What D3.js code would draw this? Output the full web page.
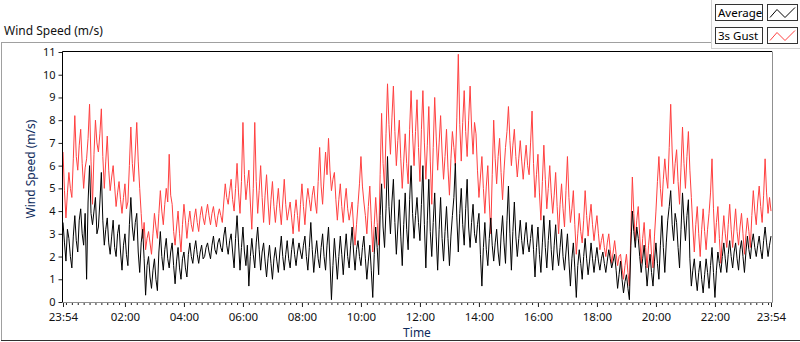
<!DOCTYPE html>
<html>
<head>
<meta charset="utf-8">
<script src="https://cdnjs.cloudflare.com/ajax/libs/d3/7.8.5/d3.min.js"></script>
<style>
    body { margin: 0; background: #fff; }
    svg text { font-family: "Noto Sans", sans-serif; font-size: 11px; }
</style>
</head>
<body>
<div id="chart"></div>
<script>
// samples every 3 minutes, first one at 23:54
const startTime = '2020-01-01T23:54:00';
const endTime = '2020-01-02T23:54:00';
const stepMinutes = 3;

// average wind speed (m/s), one row per hour
const avgSpeed = [
    3.5, 2.6, 1.8, 3.2, 2.8, 2.0, 1.5, 2.9, 3.8, 2.7, 2.2, 3.6, 4.1, 3.0, 2.5, 3.9, 1.0, 4.4, 6.0, 3.9,
    3.4, 4.0, 4.6, 3.0, 3.3, 4.4, 5.7, 3.6, 2.5, 3.2, 3.7, 2.6, 2.1, 2.9, 3.6, 2.4, 2.0, 3.0, 3.4, 2.2,
    1.4, 2.5, 3.0, 2.1, 1.6, 3.4, 4.6, 3.3, 2.7, 3.5, 3.9, 2.2, 1.3, 2.6, 3.2, 1.9, 0.3, 1.6, 2.0, 1.1,
    0.6, 1.4, 1.9, 1.0, 0.5, 2.2, 3.1, 2.0, 1.4, 2.3, 2.8, 1.9, 1.5, 2.2, 2.6, 1.6, 0.8, 1.8, 2.4, 1.5,
    1.0, 1.9, 2.2, 1.5, 1.1, 2.1, 2.6, 2.0, 1.7, 2.3, 2.7, 2.1, 1.7, 2.2, 2.5, 1.9, 2.0, 2.4, 2.6, 2.2,
    1.9, 2.5, 2.9, 2.3, 2.1, 2.6, 2.8, 2.4, 2.2, 2.9, 3.3, 2.5, 2.1, 2.7, 3.0, 2.2, 1.5, 2.8, 3.8, 2.6,
    1.4, 2.4, 3.3, 2.2, 1.6, 2.5, 0.7, 2.0, 2.8, 2.1, 1.5, 2.6, 3.3, 2.3, 1.4, 2.2, 2.6, 1.8, 1.1, 1.9,
    2.5, 1.7, 1.0, 1.9, 2.4, 1.8, 1.3, 2.2, 2.9, 2.0, 1.4, 2.1, 2.7, 1.9, 1.5, 2.3, 2.8, 2.1, 1.6, 2.2,
    2.6, 2.2, 1.9, 2.5, 2.9, 2.0, 1.4, 2.4, 3.5, 2.3, 1.3, 2.1, 2.7, 1.9, 1.5, 2.4, 3.0, 2.0, 1.4, 2.5,
    3.3, 1.8, 0.1, 1.6, 2.8, 1.9, 1.0, 2.0, 2.9, 2.1, 1.2, 2.2, 3.0, 2.0, 1.5, 2.5, 3.3, 2.2, 1.4, 2.3,
    2.7, 2.0, 1.6, 2.4, 2.9, 1.9, 1.0, 1.8, 2.5, 1.4, 0.2, 2.1, 3.3, 2.4, 1.2, 3.8, 5.2, 3.3, 2.4, 4.1,
    6.4, 4.2, 3.0, 4.4, 5.4, 3.5, 2.1, 3.3, 4.5, 2.9, 1.6, 3.4, 4.8, 3.2, 2.3, 4.5, 6.0, 3.9, 2.8, 3.8,
    4.6, 3.5, 2.7, 4.3, 6.0, 3.4, 1.5, 3.6, 5.4, 3.1, 2.0, 3.5, 4.8, 2.9, 1.4, 3.2, 4.6, 2.8, 1.8, 3.1,
    4.2, 2.8, 1.6, 2.9, 3.8, 4.6, 6.1, 3.7, 2.2, 3.9, 5.0, 3.4, 2.5, 4.1, 5.4, 3.3, 2.4, 3.5, 4.3, 3.0,
    2.6, 3.4, 3.9, 2.1, 0.7, 2.4, 3.5, 2.3, 1.6, 2.8, 3.7, 2.5, 1.8, 2.6, 3.2, 2.2, 1.6, 2.9, 3.8, 2.6,
    1.7, 3.6, 5.1, 3.0, 1.4, 3.1, 4.4, 2.9, 2.0, 2.8, 3.6, 2.7, 2.1, 2.9, 3.5, 2.6, 2.2, 2.8, 3.4, 2.3,
    1.1, 2.4, 3.3, 2.1, 1.3, 2.6, 3.8, 2.4, 1.5, 2.7, 3.6, 2.3, 1.4, 2.5, 3.4, 2.2, 1.6, 2.4, 3.2, 2.0,
    1.4, 2.2, 3.0, 1.8, 0.7, 1.9, 2.6, 1.5, 0.2, 1.6, 2.3, 1.7, 1.0, 2.0, 2.8, 1.9, 1.2, 1.8, 2.6, 1.9,
    1.3, 1.9, 2.4, 1.8, 1.4, 1.9, 2.2, 1.7, 1.3, 1.8, 2.3, 1.9, 1.5, 1.8, 2.1, 1.4, 0.6, 1.2, 1.8, 1.0,
    0.4, 0.9, 1.2, 0.6, 0.1, 2.5, 4.0, 3.1, 2.4, 3.3, 2.8, 2.0, 1.3, 1.9, 2.5, 1.6, 0.7, 1.5, 2.1, 1.3,
    0.7, 1.8, 2.6, 1.7, 1.0, 2.5, 3.8, 2.4, 1.3, 2.6, 3.6, 4.2, 4.9, 3.4, 2.7, 3.9, 3.5, 2.4, 1.5, 3.2,
    4.8, 3.6, 2.7, 3.8, 4.5, 1.9, 0.7, 1.4, 1.9, 1.1, 0.5, 1.3, 1.8, 1.0, 0.4, 1.2, 1.9, 1.3, 0.6, 1.6,
    2.4, 1.3, 0.2, 1.4, 2.2, 1.7, 1.3, 2.0, 2.6, 1.9, 1.3, 2.1, 2.7, 2.0, 1.5, 2.2, 2.6, 1.9, 1.4, 2.3,
    2.7, 2.0, 1.3, 2.2, 2.9, 2.3, 1.9, 2.6, 3.0, 2.4, 2.0, 2.5, 2.9, 2.3, 1.9, 2.7, 3.3, 2.6, 2.0, 2.5,
    2.9
];

// 3s gust (m/s)
const gustSpeed = [
    6.6, 4.9, 3.7, 4.8, 5.7, 5.0, 4.6, 6.3, 8.2, 6.4, 5.8, 6.9, 7.6, 6.1, 5.0, 5.9, 6.3, 7.2, 8.7, 6.2,
    4.3, 6.5, 8.0, 7.0, 6.6, 7.4, 8.5, 6.4, 5.0, 6.2, 7.3, 5.8, 4.9, 5.5, 6.0, 5.1, 4.2, 4.8, 5.3, 4.5,
    3.9, 4.6, 5.2, 4.1, 4.4, 6.0, 7.7, 6.1, 5.3, 6.6, 7.9, 6.2, 5.0, 3.9, 2.8, 3.5, 2.3, 2.8, 3.1, 2.6,
    2.1, 3.0, 3.9, 3.3, 2.8, 3.9, 4.9, 4.0, 3.4, 4.3, 5.0, 4.4, 6.5, 4.7, 4.3, 3.1, 2.5, 3.3, 4.0, 3.0,
    2.2, 3.4, 4.3, 3.6, 2.8, 3.5, 4.0, 3.4, 3.1, 3.7, 4.1, 3.5, 3.1, 3.8, 4.2, 3.7, 3.4, 3.9, 4.3, 3.8,
    3.4, 3.9, 4.2, 3.7, 3.3, 3.8, 4.1, 3.8, 3.5, 4.4, 5.2, 4.6, 4.3, 4.9, 5.4, 4.5, 4.0, 5.0, 6.1, 4.8,
    3.9, 5.3, 7.9, 5.6, 4.5, 5.2, 5.8, 4.4, 3.2, 5.0, 7.9, 5.3, 3.9, 4.9, 6.0, 4.6, 3.5, 4.7, 5.6, 4.4,
    3.4, 4.5, 5.3, 4.2, 3.5, 4.3, 5.0, 4.1, 3.4, 4.4, 5.4, 4.3, 3.6, 4.0, 4.4, 3.7, 3.0, 3.9, 4.5, 3.8,
    3.1, 4.3, 5.2, 4.2, 3.4, 4.4, 5.0, 4.5, 4.0, 4.7, 5.1, 4.4, 3.9, 5.3, 6.8, 5.1, 4.3, 5.5, 6.6, 5.6,
    7.2, 5.8, 4.9, 5.4, 5.7, 4.5, 3.6, 4.5, 5.2, 4.2, 3.5, 4.4, 5.0, 4.1, 3.6, 4.0, 4.4, 3.3, 2.5, 3.4,
    4.3, 5.2, 6.4, 5.1, 4.4, 3.8, 3.0, 4.2, 5.1, 3.6, 2.2, 3.4, 4.6, 3.5, 2.5, 5.6, 8.3, 6.1, 5.0, 7.4,
    9.6, 7.8, 6.5, 8.1, 9.5, 7.5, 6.0, 7.1, 8.0, 6.3, 5.0, 6.2, 7.4, 6.1, 5.2, 7.6, 9.3, 7.4, 6.0, 7.5,
    8.9, 6.8, 5.3, 7.6, 9.3, 7.0, 5.4, 6.9, 8.6, 6.2, 4.3, 6.8, 9.0, 7.3, 5.8, 7.0, 8.2, 6.6, 5.4, 6.4,
    7.6, 5.9, 4.7, 6.3, 7.5, 6.8, 6.0, 8.1, 10.9, 7.8, 6.2, 7.9, 9.3, 7.5, 6.4, 8.0, 9.5, 7.7, 6.5, 7.9,
    7.4, 5.8, 4.6, 5.5, 6.4, 5.0, 3.9, 5.1, 6.0, 4.4, 3.0, 5.6, 8.0, 6.3, 5.2, 6.4, 7.2, 5.7, 4.5, 5.8,
    6.8, 7.5, 8.6, 7.1, 6.0, 6.9, 7.6, 6.4, 5.5, 6.3, 7.1, 6.2, 5.4, 6.2, 6.9, 6.0, 5.6, 7.0, 8.4, 6.1,
    4.6, 5.6, 6.5, 4.8, 3.6, 5.3, 6.9, 5.4, 4.1, 5.0, 6.0, 4.8, 3.9, 4.7, 5.7, 4.2, 3.0, 4.3, 5.2, 4.1,
    3.3, 4.9, 6.4, 4.6, 3.5, 4.1, 4.9, 3.4, 2.1, 3.0, 3.9, 3.1, 2.6, 3.6, 4.9, 3.8, 2.9, 3.7, 4.3, 3.4,
    2.7, 3.3, 3.8, 3.0, 2.3, 2.7, 3.0, 2.4, 2.0, 2.6, 3.0, 2.3, 1.7, 2.2, 2.7, 2.1, 1.6, 2.0, 2.1, 1.5,
    1.0, 1.6, 2.1, 1.3, 0.7, 3.1, 5.5, 3.9, 2.7, 3.6, 4.2, 2.9, 1.7, 2.8, 3.5, 2.4, 1.5, 2.5, 3.2, 2.1,
    1.5, 2.9, 4.0, 5.3, 6.4, 5.0, 4.2, 5.4, 6.3, 5.5, 5.0, 6.8, 8.7, 6.6, 5.2, 6.1, 6.7, 5.3, 4.3, 5.9,
    7.7, 6.1, 5.0, 6.4, 7.5, 5.8, 4.6, 3.3, 2.2, 3.4, 4.2, 3.0, 2.0, 3.2, 4.1, 3.1, 2.3, 3.2, 3.9, 4.8,
    6.3, 4.1, 2.6, 3.5, 4.2, 2.8, 1.7, 2.9, 3.8, 3.0, 2.4, 3.4, 4.3, 3.2, 2.4, 3.3, 4.1, 3.1, 2.5, 3.3,
    3.9, 3.0, 2.1, 3.0, 3.7, 3.1, 2.4, 3.8, 4.9, 4.0, 3.4, 4.4, 5.1, 4.2, 3.5, 4.7, 6.3, 4.8, 3.9, 4.6,
    4.0
];

const yTicks = [0, 1, 2, 3, 4, 5, 6, 7, 8, 9, 10, 11];
const xTickTimes = ['2020-01-01T23:54:00', '2020-01-02T02:00:00', '2020-01-02T04:00:00',
    '2020-01-02T06:00:00', '2020-01-02T08:00:00', '2020-01-02T10:00:00', '2020-01-02T12:00:00',
    '2020-01-02T14:00:00', '2020-01-02T16:00:00', '2020-01-02T18:00:00', '2020-01-02T20:00:00',
    '2020-01-02T22:00:00', '2020-01-02T23:54:00'];
const xTickLabels = ['23:54', '02:00', '04:00', '06:00', '08:00', '10:00', '12:00',
    '14:00', '16:00', '18:00', '20:00', '22:00', '23:54'];

const seriesNames = ['Average', '3s Gust'];
const seriesColors = ['#000000', '#ff4040'];

class WindChart {

    init() {
        this.width = 800;
        this.height = 342;
        this.svg = d3.select('#chart').append('svg')
            .attr('width', this.width)
            .attr('height', this.height);

        let t0 = new Date(startTime);
        this.x = d3.scaleTime()
            .domain([t0, new Date(endTime)])
            .range([63, 771]);
        this.y = d3.scaleLinear()
            .domain([0, 11])
            .range([302, 52]);
        this.timeAt = i => d3.timeMinute.offset(t0, i * stepMinutes);

        this.drawFrame();
        this.drawAxes();
        this.drawSeries(gustSpeed, seriesColors[1]);
        this.drawSeries(avgSpeed, seriesColors[0]);
        this.drawPlotBorder();
        this.drawLegend();
    }

    drawFrame() {
        this.svg.append('text')
            .attr('x', 4)
            .attr('y', 35)
            .attr('fill', '#111')
            .style('font-size', '12px')
            .text('Wind Speed (m/s)');

        this.svg.append('line')
            .attr('x1', 1).attr('x2', 712)
            .attr('y1', 42.5).attr('y2', 42.5)
            .attr('stroke', '#a0a0a0');
        this.svg.append('line')
            .attr('x1', 1.5).attr('x2', 1.5)
            .attr('y1', 42).attr('y2', 341)
            .attr('stroke', '#a0a0a0');
        this.svg.append('line')
            .attr('x1', 1).attr('x2', 800)
            .attr('y1', 340.5).attr('y2', 340.5)
            .attr('stroke', '#303030');
    }

    drawAxes() {
        let majors = xTickTimes.map(s => new Date(s));
        let minors = d3.timeMinute.every(12).range(new Date('2020-01-02T00:00:00'), new Date(endTime));

        let minorAxis = this.svg.append('g')
            .attr('transform', 'translate(0,302)')
            .call(d3.axisBottom(this.x).tickValues(minors).tickSize(3).tickSizeOuter(0).tickFormat(''));
        minorAxis.select('.domain').remove();

        let xAxis = this.svg.append('g')
            .attr('transform', 'translate(0,302)')
            .call(d3.axisBottom(this.x)
                .tickValues(majors)
                .tickSize(5)
                .tickSizeOuter(0)
                .tickPadding(6)
                .tickFormat((d, i) => xTickLabels[i]));
        xAxis.select('.domain').remove();

        this.svg.selectAll('.tick line').attr('stroke', '#222');
        xAxis.selectAll('text').attr('fill', '#111').style('font-size', '11.5px');

        let yAxis = this.svg.append('g')
            .attr('transform', 'translate(62.5,0)')
            .call(d3.axisLeft(this.y).tickValues(yTicks).tickSize(4).tickSizeOuter(0).tickPadding(3));
        yAxis.select('.domain').remove();
        yAxis.selectAll('.tick line').attr('stroke', '#222');
        yAxis.selectAll('text').attr('fill', '#111').style('font-size', '11px');

        this.svg.append('text')
            .attr('x', 417)
            .attr('y', 337)
            .attr('text-anchor', 'middle')
            .attr('fill', '#0d2a5c')
            .style('font-size', '12px')
            .text('Time');

        this.svg.append('text')
            .attr('transform', 'translate(35,169) rotate(-90)')
            .attr('text-anchor', 'middle')
            .attr('fill', '#0d2a5c')
            .style('font-size', '12px')
            .text('Wind Speed (m/s)');
    }

    drawSeries(values, color) {
        let line = d3.line()
            .x((d, i) => this.x(this.timeAt(i)))
            .y(d => this.y(d));

        this.svg.append('path')
            .datum(values)
            .attr('d', line)
            .attr('fill', 'none')
            .attr('stroke', color)
            .attr('stroke-width', 1);
    }

    drawPlotBorder() {
        // sunken look: dark on top/left, grey on right/bottom
        this.svg.append('line')
            .attr('x1', 62.5).attr('x2', 772)
            .attr('y1', 51.5).attr('y2', 51.5)
            .attr('stroke', '#000');
        this.svg.append('line')
            .attr('x1', 62.5).attr('x2', 62.5)
            .attr('y1', 51.5).attr('y2', 302.5)
            .attr('stroke', '#000');
        this.svg.append('line')
            .attr('x1', 772.5).attr('x2', 772.5)
            .attr('y1', 51.5).attr('y2', 302.5)
            .attr('stroke', '#909090');
        this.svg.append('line')
            .attr('x1', 62.5).attr('x2', 772.5)
            .attr('y1', 302.5).attr('y2', 302.5)
            .attr('stroke', '#909090');
    }

    drawLegend() {
        let g = this.svg.append('g');
        g.append('rect')
            .attr('x', 711.5).attr('y', -1)
            .attr('width', 90).attr('height', 49.5)
            .attr('fill', '#fcfcfc')
            .attr('stroke', '#d0d0d0');

        seriesNames.forEach((name, i) => {
            let top = 4.5 + i * 23;
            g.append('rect')
                .attr('x', 715.5).attr('y', top)
                .attr('width', 47).attr('height', 16)
                .attr('fill', '#fff')
                .attr('stroke', '#333');
            g.append('text')
                .attr('x', 718)
                .attr('y', top + 12)
                .attr('fill', '#000')
                .style('font-size', '11.5px')
                .text(name);
            g.append('rect')
                .attr('x', 767.5).attr('y', top)
                .attr('width', 30).attr('height', 16)
                .attr('fill', '#fff')
                .attr('stroke', '#333');
            g.append('polyline')
                .attr('points', [[770, top + 13], [777, top + 5], [785, top + 13], [795, top + 3]].join(' '))
                .attr('fill', 'none')
                .attr('stroke', seriesColors[i]);
        });
    }
}

window.chart = new WindChart();
window.chart.init();
</script>
</body>
</html>
